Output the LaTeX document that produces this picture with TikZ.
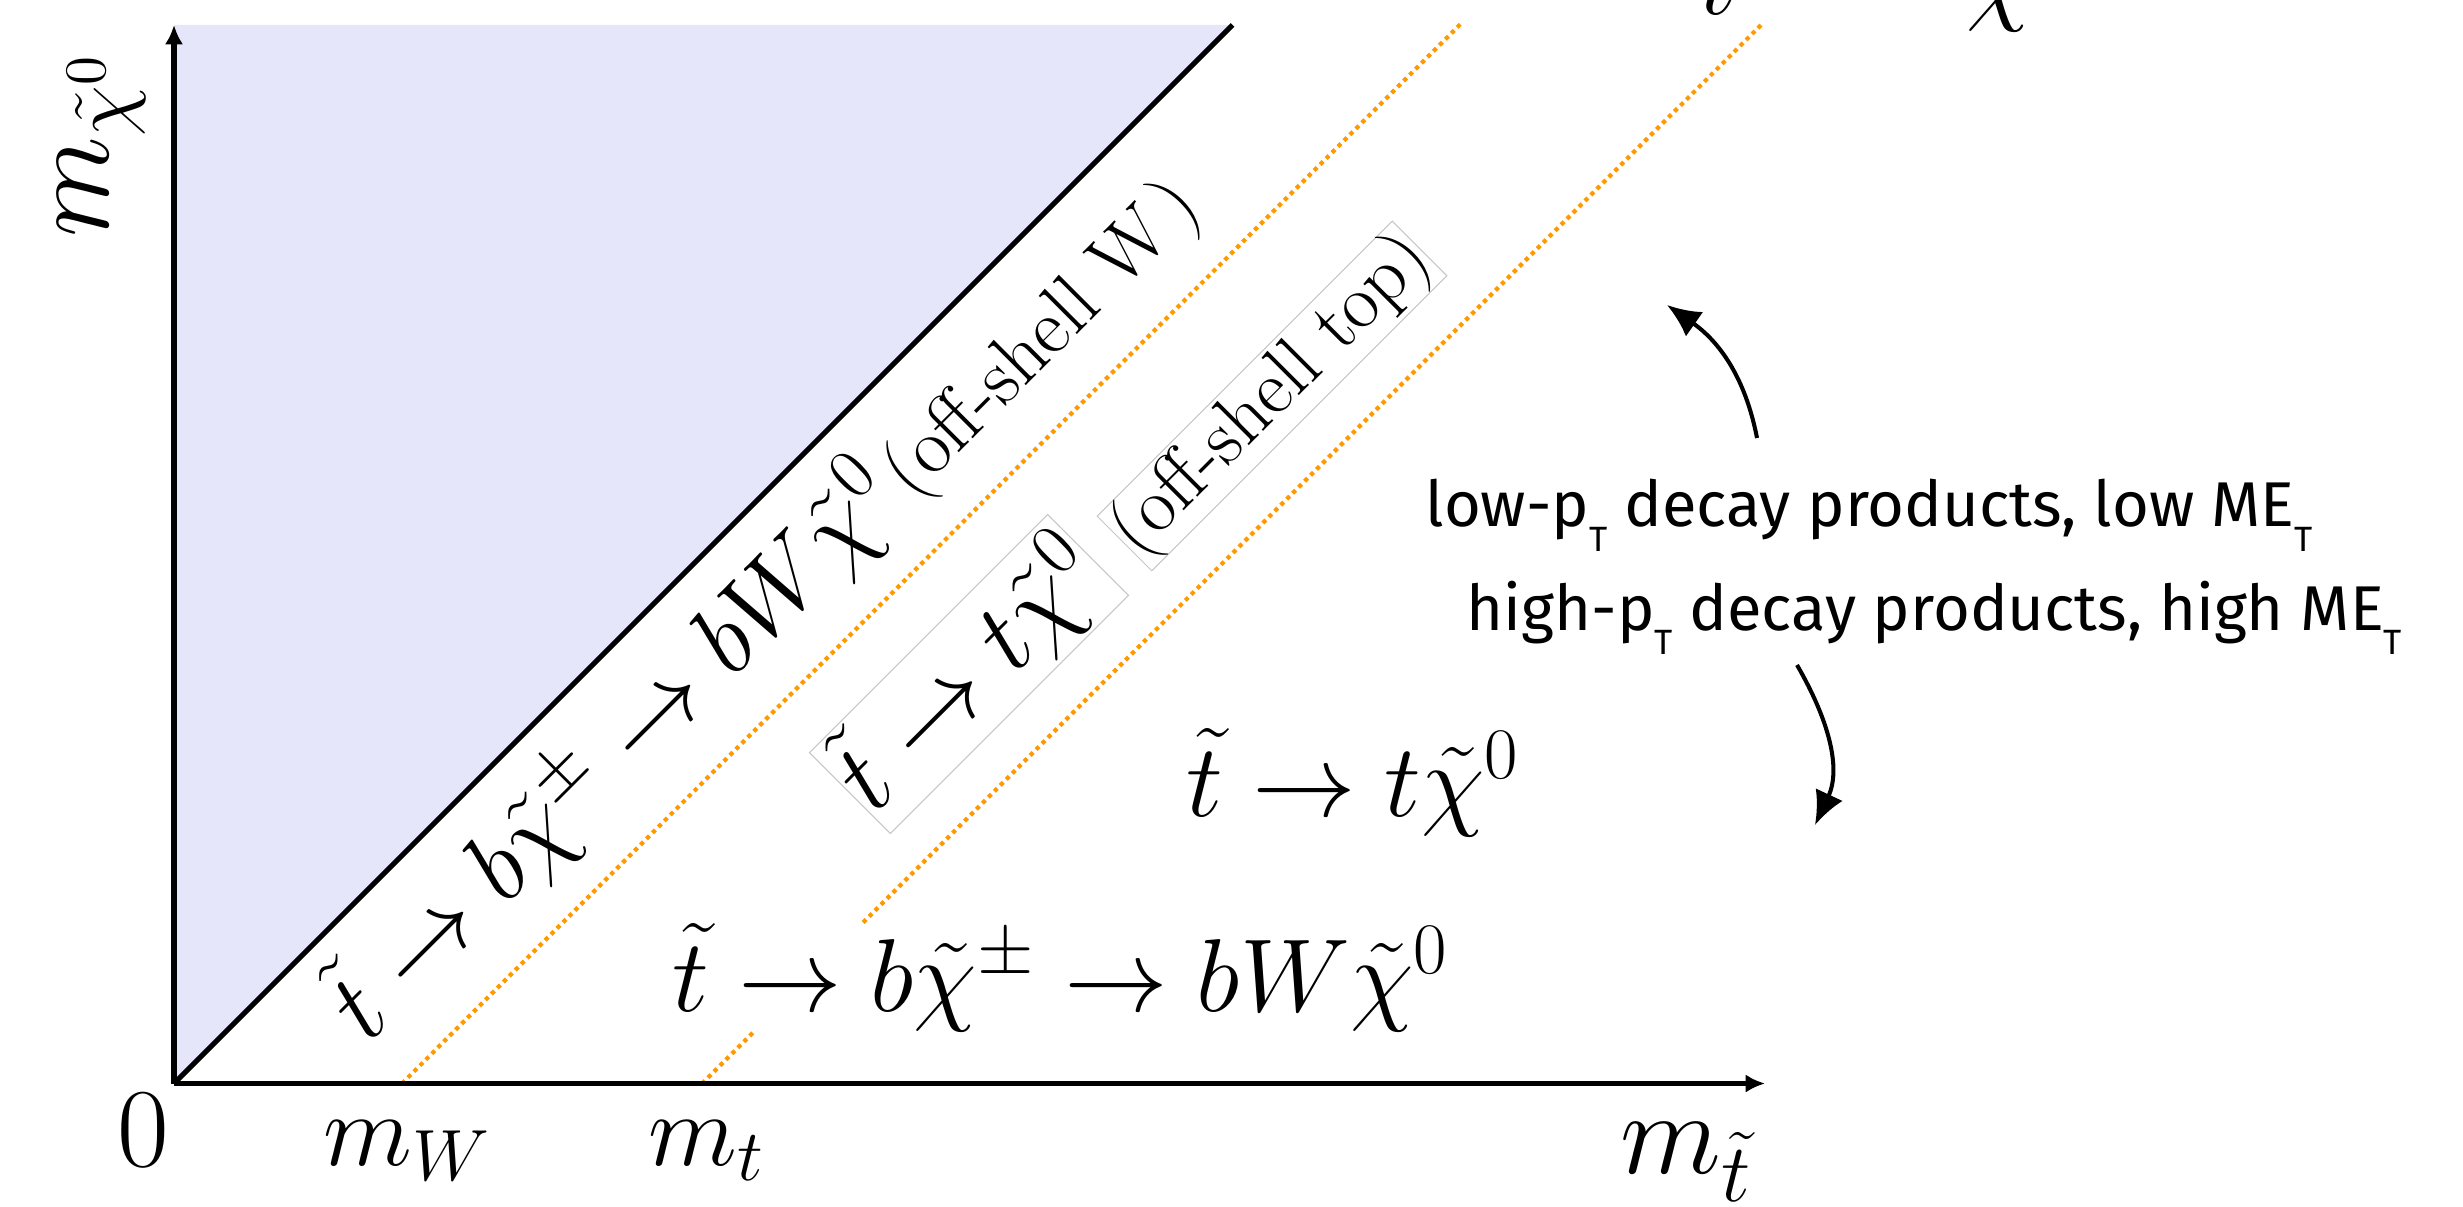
\RequirePackage{fix-cm}
\documentclass[tikz,border=0pt]{standalone}
\usepackage{fontspec}
\newfontfamily\annotfont{Fira Sans}
\usetikzlibrary{arrows.meta}
\definecolor{dotorange}{RGB}{255,153,0}
\definecolor{regionfill}{RGB}{230,230,250}
\newcommand{\Tsub}{\raisebox{-7pt}{\fontsize{10}{12}\selectfont T}}
\begin{document}
\begin{tikzpicture}[
  mathlbl/.style={inner sep=0pt, font=\fontsize{29.5}{36}\selectfont},
  diaglbl/.style={inner sep=0pt, font=\fontsize{29}{35}\selectfont},
  axlbl/.style={inner sep=0pt, font=\fontsize{33.5}{40}\selectfont},
  txtlbl/.style={inner sep=0pt, font=\fontsize{22}{26}\selectfont},
  axisline/.style={line width=1.5pt, -{Latex[length=5.5pt,width=5.2pt]}},
  orangeline/.style={dotorange, line width=1.2pt, dash pattern=on 1.2pt off 1.2pt},
  grayframe/.style={draw=gray!45, line width=0.3pt, fill=white},
  annot/.style={inner sep=0pt, anchor=base west, font=\annotfont\fontsize{18}{22}\selectfont},
  curvearrow/.style={line width=1.15pt, -{Latex[length=9.5pt,width=8.5pt]}}
]
\useasboundingbox (0,0) rectangle (24.63,12.06);
\clip (0,0) rectangle (24.63,12.06);

\coordinate (O) at (1.74,1.225);
\coordinate (Ytop) at (1.74,11.81);
\coordinate (Xend) at (17.65,1.225);
\coordinate (Dtop) at (12.325,11.81);
\coordinate (W0) at (4.02,1.225);
\coordinate (Wtop) at (14.605,11.82);
\coordinate (T0) at (7.02,1.225);
\coordinate (Ttop) at (17.63,11.83);

\fill[regionfill] (O) -- (Ytop) -- (Dtop) -- cycle;
\draw[line width=1.5pt] (O) -- (Dtop);
\draw[orangeline] (W0) -- (Wtop);
\draw[orangeline] (T0) -- (Ttop);
\draw[axisline] (O) -- (Ytop);
\draw[axisline] (O) -- (Xend);

% diagonal region labels
\node[diaglbl, rotate=45, anchor=base west] (lblA) at (3.675,1.615)
  {$\tilde t\to b\tilde\chi^{\pm}\to bW\tilde\chi^{0}$\hspace{2pt}{\fontsize{22.5}{27}\selectfont(off-shell W\,)}};
\node[mathlbl, rotate=45, grayframe, inner xsep=0.5pt, inner ysep=1pt] (lblB) at (9.69,5.32)
  {$\tilde t\to t\tilde\chi^{0}$};
\node[txtlbl, rotate=45, grayframe] (lblC) at (12.72,8.10) {(off-shell top)};
\node[mathlbl, anchor=base west, fill=white] (lblD) at (6.72,1.95)
  {$\tilde t\to b\tilde\chi^{\pm}\to bW\tilde\chi^{0}$};
\node[mathlbl, anchor=base west] (lblE) at (11.86,3.90) {$\tilde t\to t\tilde\chi^{0}$};

% axis labels
\node[mathlbl, anchor=base, font=\fontsize{32}{38}\selectfont] (zero) at (1.43,0.40) {$0$};
\node[mathlbl, anchor=base west] (mW) at (3.23,0.41) {$m_W$};
\node[mathlbl, anchor=base west] (mt) at (6.48,0.41) {$m_t$};
\node[axlbl, anchor=base west] (mstop) at (16.20,0.33) {$m_{\tilde t}$};
\node[axlbl, rotate=90, anchor=base west] (mchi) at (1.08,9.68) {$m_{\tilde\chi^0}$};

% cut-off text at the top edge
\node[mathlbl, anchor=base west] (frT) at (17.00,11.91) {$t$};
\node[mathlbl, anchor=base west] (frChi) at (19.66,11.94) {$\chi$};

% annotations
\node[annot] (low) at (14.25,6.79) {low-p\Tsub\ decay products, low ME\Tsub};
\node[annot] (high) at (14.66,5.76) {high-p\Tsub\ decay products, high ME\Tsub};

\coordinate (upS) at (17.57,7.68);
\coordinate (upE) at (16.67,9.01);
\draw[curvearrow] (upS) to[out=101,in=-35] (upE);
\coordinate (dnS) at (17.97,5.41);
\coordinate (dnE) at (18.15,3.81);
\draw[curvearrow] (dnS) to[out=-60,in=65] (dnE);
\end{tikzpicture}
\end{document}
